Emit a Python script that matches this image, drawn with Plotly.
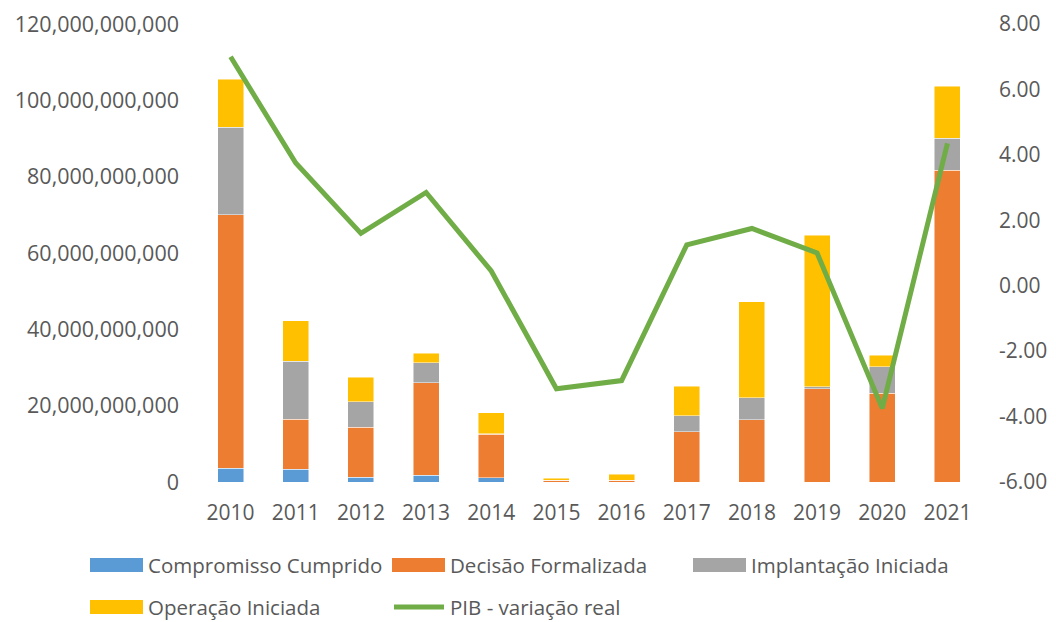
import plotly.graph_objects as go

# Dados (valores em reais; PIB em %)
anos = ["2010", "2011", "2012", "2013", "2014", "2015", "2016", "2017", "2018", "2019", "2020", "2021"]
compromisso_cumprido = [3.6e9, 3.4e9, 1.2e9, 1.8e9, 1.1e9, 0.0, 0.0, 0.0, 0.0, 0.0, 0.0, 0.0]
decisao_formalizada = [66.4e9, 13.0e9, 13.1e9, 24.2e9, 11.4e9, 0.4e9, 0.4e9, 13.2e9, 16.3e9, 24.4e9, 23.3e9, 81.7e9]
implantacao_iniciada = [23.0e9, 15.3e9, 6.7e9, 5.3e9, 0.2e9, 0.0, 0.0, 4.2e9, 5.8e9, 0.5e9, 6.9e9, 8.4e9]
operacao_iniciada = [12.5e9, 10.5e9, 6.5e9, 2.5e9, 5.4e9, 0.6e9, 1.6e9, 7.7e9, 25.1e9, 39.8e9, 3.0e9, 13.6e9]
pib_variacao = [7.0, 3.75, 1.6, 2.85, 0.45, -3.15, -2.9, 1.25, 1.75, 1.0, -3.75, 4.35]
pib_ticks = [-6, -4, -2, 0, 2, 4, 6, 8]

COLORS = {
    "Compromisso Cumprido": "#5B9BD5",
    "Decisão Formalizada": "#ED7D31",
    "Implantação Iniciada": "#A5A5A5",
    "Operação Iniciada": "#FFC000",
    "PIB - variação real": "#70AD47",
}
TEXT = "#595959"
FONT = "Open Sans, Liberation Sans, sans-serif"

# geometria em pixels (a página tem 8px de margem no body)
W, H = 1048, 614
L, R, T, B = 190, 972, 16, 474

barras = [
    ("Compromisso Cumprido", compromisso_cumprido),
    ("Decisão Formalizada", decisao_formalizada),
    ("Implantação Iniciada", implantacao_iniciada),
    ("Operação Iniciada", operacao_iniciada),
]

fig = go.Figure()
for nome, valores in barras:
    fig.add_trace(
        go.Bar(
            x=anos,
            y=valores,
            name=nome,
            marker=dict(color=COLORS[nome], line=dict(color="rgba(255,255,255,0.6)", width=0.8)),
        )
    )
fig.add_trace(
    go.Scatter(
        x=anos,
        y=pib_variacao,
        name="PIB - variação real",
        mode="lines",
        yaxis="y2",
        line=dict(color=COLORS["PIB - variação real"], width=5),
    )
)

fig.update_layout(
    width=W,
    height=H,
    barmode="stack",
    bargap=0.6,
    showlegend=False,
    paper_bgcolor="white",
    plot_bgcolor="white",
    font=dict(family=FONT, size=21, color=TEXT),
    margin=dict(l=L, r=W - R, t=T, b=H - B, autoexpand=False),
    xaxis=dict(showgrid=False, showline=False, ticks="", ticklabelstandoff=16),
    yaxis=dict(
        range=[0, 120e9],
        dtick=20e9,
        tickformat=",.0f",
        tickfont=dict(size=21.5),
        showgrid=False,
        zeroline=False,
        showline=False,
        ticklabelstandoff=18,
    ),
    yaxis2=dict(
        range=[-6, 8],
        tickvals=pib_ticks,
        ticktext=[f"{v:.2f}" for v in pib_ticks],
        tickfont=dict(size=21),
        overlaying="y",
        side="right",
        showgrid=False,
        zeroline=False,
        showline=False,
        ticklabelstandoff=18,
    ),
)


# legenda desenhada à mão (amostras largas como no original)
def px_x(px):
    return (px - L) / (R - L)


def px_y(py):
    return (B - py) / (B - T)


itens = [
    ("Compromisso Cumprido", 82, 557, "bar"),
    ("Decisão Formalizada", 384, 557, "bar"),
    ("Implantação Iniciada", 685, 557, "bar"),
    ("Operação Iniciada", 82, 599, "bar"),
    ("PIB - variação real", 384, 599, "line"),
]
for nome, x0, yc, tipo in itens:
    if tipo == "bar":
        fig.add_shape(
            type="rect",
            xref="paper",
            yref="paper",
            x0=px_x(x0),
            x1=px_x(x0 + 53),
            y0=px_y(yc + 7),
            y1=px_y(yc - 7),
            fillcolor=COLORS[nome],
            line=dict(width=0),
        )
    else:
        fig.add_shape(
            type="line",
            xref="paper",
            yref="paper",
            x0=px_x(x0 + 2),
            x1=px_x(x0 + 52),
            y0=px_y(yc),
            y1=px_y(yc),
            line=dict(color=COLORS[nome], width=5),
        )
    fig.add_annotation(
        text=nome,
        xref="paper",
        yref="paper",
        x=px_x(x0 + 56),
        y=px_y(yc),
        xanchor="left",
        yanchor="middle",
        showarrow=False,
        font=dict(family=FONT, size=20.5, color=TEXT),
    )

fig.write_html("out.html")
